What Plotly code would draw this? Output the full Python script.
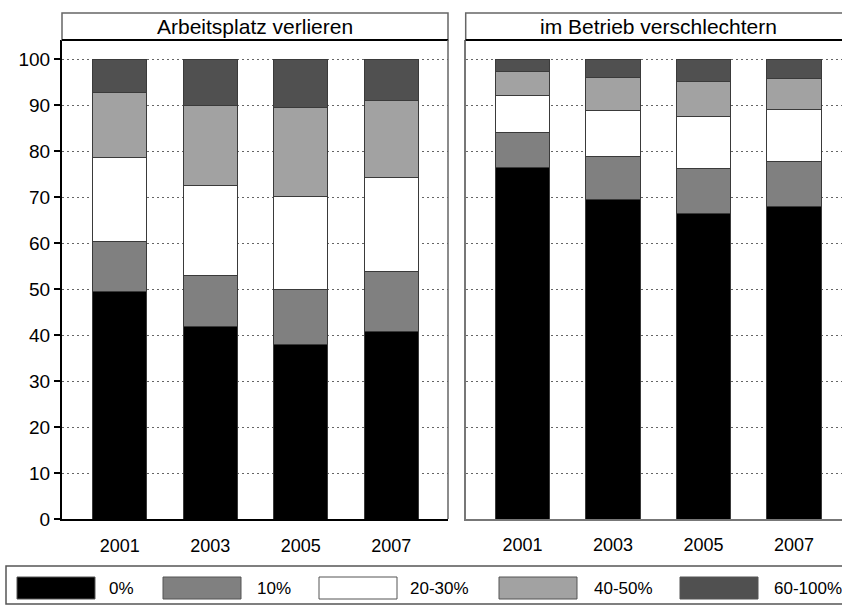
import plotly.graph_objects as go

# ---------------- data ----------------
years = ["2001", "2003", "2005", "2007"]
series_names = ["0%", "10%", "20-30%", "40-50%", "60-100%"]
panel_titles = ["Arbeitsplatz verlieren", "im Betrieb verschlechtern"]

left_0 = [49.4, 41.9, 38.0, 40.7]
left_10 = [11.0, 11.1, 11.8, 13.2]
left_20_30 = [18.2, 19.5, 20.4, 20.3]
left_40_50 = [14.1, 17.3, 19.2, 16.7]
left_60_100 = [7.3, 10.2, 10.6, 9.1]

right_0 = [76.4, 69.5, 66.5, 67.9]
right_10 = [7.6, 9.3, 9.7, 9.8]
right_20_30 = [8.0, 10.1, 11.3, 11.4]
right_40_50 = [5.2, 7.1, 7.6, 6.6]
right_60_100 = [2.8, 4.0, 4.9, 4.3]

y_ticks = [0, 10, 20, 30, 40, 50, 60, 70, 80, 90, 100]

colors = ["#000000", "#808080", "#ffffff", "#a2a2a2", "#505050"]

# ---------------- layout helpers ----------------
W, H = 842, 605
FONT = "Liberation Sans, Arial, sans-serif"


def px_x(p):
    return p / W


def px_y(p):
    return 1 - p / H


left_dom = [px_x(62), px_x(448)]
right_dom = [px_x(465.7), 1.0]
y_dom = [px_y(519), px_y(40)]

fig = go.Figure()

left_data = [left_0, left_10, left_20_30, left_40_50, left_60_100]
right_data = [right_0, right_10, right_20_30, right_40_50, right_60_100]

for name, vals, col in zip(series_names, left_data, colors):
    fig.add_trace(go.Bar(x=years, y=vals, name=name, marker=dict(color=col, line=dict(color="#3a3a3a", width=1)),
                         xaxis="x", yaxis="y", showlegend=False))
for name, vals, col in zip(series_names, right_data, colors):
    fig.add_trace(go.Bar(x=years, y=vals, name=name, marker=dict(color=col, line=dict(color="#3a3a3a", width=1)),
                         xaxis="x2", yaxis="y2", showlegend=False))

unit = 90.5  # pixels per category
left_range = [-57.7 / unit, 3 + 56.7 / unit]
right_range = [-56.8 / unit, -56.8 / unit + (842 - 465.7) / unit]
y_range = [0, 100 + 19 / 4.6]

grid = dict(showgrid=True, gridcolor="#666666", gridwidth=1, griddash="2px,3px")

fig.update_layout(
    template="none",
    width=W, height=H,
    margin=dict(l=0, r=0, t=0, b=0, pad=0),
    paper_bgcolor="white", plot_bgcolor="white",
    barmode="stack", bargap=0.4,
    font=dict(family=FONT, color="#000000"),
    xaxis=dict(domain=left_dom, range=left_range, type="category", showline=True, linecolor="#000000",
               linewidth=2, ticks="outside", ticklen=9, tickcolor="rgba(0,0,0,0)", automargin=False,
               tickfont=dict(size=18, family=FONT), showgrid=False, zeroline=False),
    yaxis=dict(domain=y_dom, range=y_range, tickvals=y_ticks, showline=True, linecolor="#000000", linewidth=2,
               ticks="outside", ticklen=6, tickwidth=1.5, tickcolor="#000000", automargin=False,
               tickfont=dict(size=19, family=FONT), zeroline=False, **grid),
    xaxis2=dict(domain=right_dom, range=right_range, type="category", anchor="y2", showline=True,
                linecolor="#777777", linewidth=1.5, ticks="outside", ticklen=9, tickcolor="rgba(0,0,0,0)",
                automargin=False, tickfont=dict(size=18, family=FONT), showgrid=False, zeroline=False),
    yaxis2=dict(domain=y_dom, range=y_range, anchor="x2", tickvals=y_ticks, showticklabels=False,
                showline=True, linecolor="#777777", linewidth=1.5, ticks="", zeroline=False,
                automargin=False, **grid),
)

shapes = []
annotations = []
# panel headers
for (x0, x1), title in zip([(62, 448), (465.7, 860)], panel_titles):
    shapes.append(dict(type="rect", xref="paper", yref="paper", x0=px_x(x0), x1=px_x(x1),
                       y0=px_y(40), y1=px_y(13), line=dict(color="#666666", width=1.5), fillcolor="white",
                       layer="above"))
    shapes.append(dict(type="line", xref="paper", yref="paper", x0=px_x(x0), x1=px_x(x1),
                       y0=px_y(40), y1=px_y(40), line=dict(color="#000000", width=2), layer="above"))
    annotations.append(dict(xref="paper", yref="paper", x=px_x((x0 + min(x1, 851.7)) / 2), y=px_y(27),
                            text=title, showarrow=False, xanchor="center", yanchor="middle",
                            font=dict(size=21, family=FONT, color="#000000")))
# left panel right border
shapes.append(dict(type="line", xref="paper", yref="paper", x0=px_x(448), x1=px_x(448),
                   y0=px_y(519), y1=px_y(40), line=dict(color="#666666", width=1.5), layer="above"))

# legend box
shapes.append(dict(type="rect", xref="paper", yref="paper", x0=px_x(6), x1=px_x(860),
                   y0=px_y(604), y1=px_y(566), line=dict(color="#555555", width=1.5), fillcolor="white"))
sw_x = [17, 163, 319, 499, 680]
tx_x = [107, 255, 408, 592, 772]
for name, col, sx, tx in zip(series_names, colors, sw_x, tx_x):
    shapes.append(dict(type="rect", xref="paper", yref="paper", x0=px_x(sx), x1=px_x(sx + 78),
                       y0=px_y(599), y1=px_y(577), line=dict(color="#555555", width=1), fillcolor=col))
    annotations.append(dict(xref="paper", yref="paper", x=px_x(tx), y=px_y(588), text=name,
                            showarrow=False, xanchor="left", yanchor="middle",
                            font=dict(size=17, family=FONT, color="#000000")))

fig.update_layout(shapes=shapes, annotations=annotations)

fig.write_html("out.html", config={"displayModeBar": False},
               post_script="document.body.style.margin='0';document.body.style.overflow='hidden';")
